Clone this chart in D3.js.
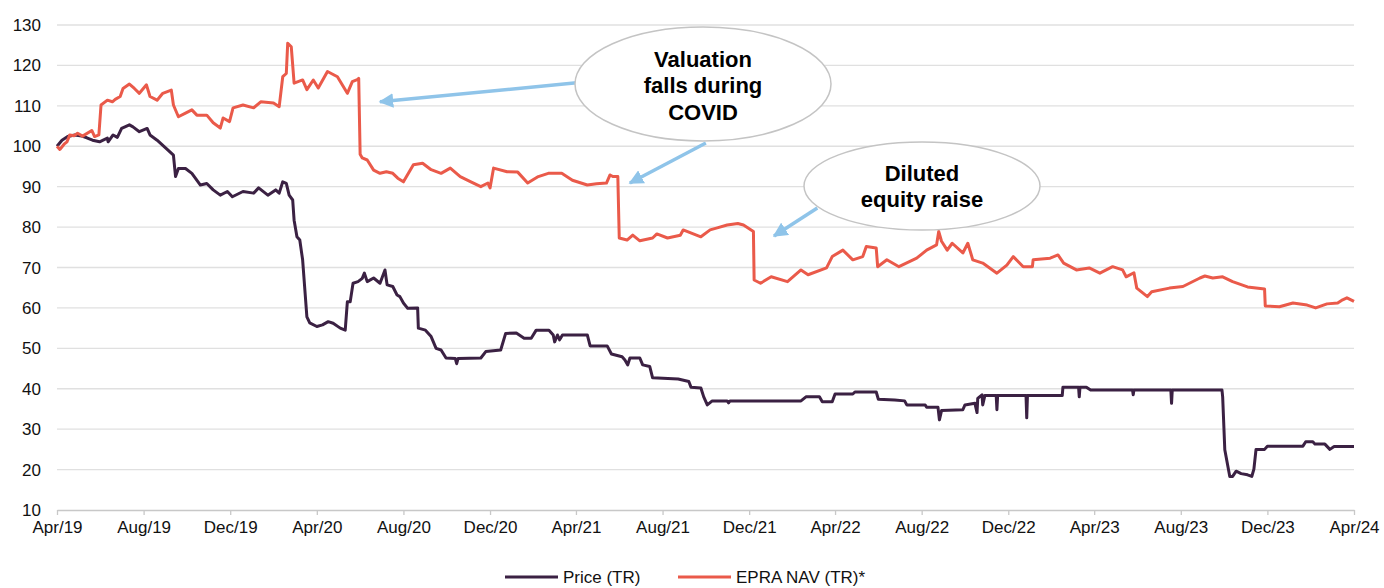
<!DOCTYPE html>
<html>
<head>
<meta charset="utf-8">
<script src="https://cdn.jsdelivr.net/npm/d3@7"></script>
<style>
  html, body { margin: 0; padding: 0; background: #fff; }
  svg { display: block; font-family: "Liberation Sans", Arial, sans-serif; }
</style>
</head>
<body>
<svg id="chart" width="1384" height="588"></svg>
<script>
// price total return, rebased to 100
const priceSeries = [
  ["2019-04-01",100.0],["2019-04-08",101.5],["2019-04-16",102.4],["2019-04-26",102.8],
  ["2019-05-06",102.5],["2019-05-13",102.1],["2019-05-21",101.5],["2019-05-31",101.1],
  ["2019-06-05",101.5],["2019-06-11",102.0],["2019-06-12",101.1],["2019-06-19",102.8],
  ["2019-06-25",102.2],["2019-07-01",104.4],["2019-07-12",105.3],["2019-07-17",104.8],
  ["2019-07-26",103.6],["2019-08-06",104.4],["2019-08-10",102.8],["2019-08-20",101.5],
  ["2019-09-04",99.1],["2019-09-12",97.8],["2019-09-15",92.5],["2019-09-19",94.5],
  ["2019-09-29",94.5],["2019-10-08",93.3],["2019-10-20",90.4],["2019-10-29",90.8],
  ["2019-11-07",89.2],["2019-11-17",87.9],["2019-11-27",88.8],["2019-12-04",87.5],
  ["2019-12-19",88.8],["2020-01-03",88.4],["2020-01-10",89.7],["2020-01-23",87.9],
  ["2020-02-03",89.2],["2020-02-08",88.4],["2020-02-13",91.2],["2020-02-18",90.8],
  ["2020-02-22",87.9],["2020-02-27",86.7],["2020-02-29",81.7],["2020-03-04",77.6],
  ["2020-03-08",76.8],["2020-03-12",71.9],["2020-03-18",57.8],["2020-03-22",56.3],
  ["2020-04-01",55.4],["2020-04-09",55.8],["2020-04-17",56.6],["2020-04-24",56.2],
  ["2020-05-04",55.0],["2020-05-11",54.5],["2020-05-14",61.5],["2020-05-18",61.5],
  ["2020-05-22",66.1],["2020-05-29",66.5],["2020-06-04",67.3],["2020-06-07",68.6],
  ["2020-06-11",66.5],["2020-06-20",67.4],["2020-06-29",66.1],["2020-07-06",69.4],
  ["2020-07-09",65.7],["2020-07-17",65.3],["2020-07-23",63.2],["2020-07-27",62.8],
  ["2020-08-01",61.2],["2020-08-07",59.9],["2020-08-21",60.0],["2020-08-22",55.0],
  ["2020-09-01",54.5],["2020-09-09",52.9],["2020-09-16",50.0],["2020-09-23",49.6],
  ["2020-09-30",47.6],["2020-10-13",47.5],["2020-10-15",46.2],["2020-10-17",47.5],
  ["2020-11-18",47.6],["2020-11-25",49.2],["2020-12-16",49.6],["2020-12-23",53.7],
  ["2021-01-07",53.8],["2021-01-18",52.5],["2021-01-28",52.5],["2021-02-04",54.5],
  ["2021-02-22",54.5],["2021-02-28",53.3],["2021-03-02",51.6],["2021-03-06",53.3],
  ["2021-03-09",52.1],["2021-03-13",53.3],["2021-04-17",53.3],["2021-04-21",50.6],
  ["2021-05-15",50.6],["2021-05-21",48.6],["2021-06-05",47.9],["2021-06-09",47.1],
  ["2021-06-13",45.9],["2021-06-16",47.6],["2021-06-30",47.6],["2021-07-04",45.9],
  ["2021-07-14",45.5],["2021-07-18",42.7],["2021-08-23",42.4],["2021-09-07",41.8],
  ["2021-09-10",40.4],["2021-09-24",40.2],["2021-09-28",38.0],["2021-10-03",36.0],
  ["2021-10-10",37.0],["2021-10-31",37.0],["2021-11-02",36.5],["2021-11-04",37.0],
  ["2022-02-12",37.0],["2022-02-19",38.0],["2022-03-10",38.0],["2022-03-14",36.8],
  ["2022-03-28",36.8],["2022-04-01",38.7],["2022-04-26",38.7],["2022-04-29",39.2],
  ["2022-05-29",39.2],["2022-06-01",37.4],["2022-06-24",37.2],["2022-07-08",37.0],
  ["2022-07-11",36.0],["2022-08-06",36.0],["2022-08-08",35.4],["2022-08-24",35.4],
  ["2022-08-26",32.3],["2022-08-29",34.6],["2022-09-28",34.8],["2022-10-01",36.0],
  ["2022-10-15",36.4],["2022-10-18",34.1],["2022-10-19",37.6],["2022-10-25",38.5],
  ["2022-10-26",36.0],["2022-10-29",38.3],["2022-11-14",38.3],["2022-11-15",34.8],
  ["2022-11-16",38.3],["2022-12-26",38.3],["2022-12-27",32.8],["2022-12-28",38.3],
  ["2023-02-15",38.3],["2023-02-16",40.4],["2023-03-10",40.4],["2023-03-11",38.0],
  ["2023-03-12",40.4],["2023-03-21",40.4],["2023-03-27",39.7],["2023-05-25",39.7],
  ["2023-05-26",38.5],["2023-05-27",39.7],["2023-07-18",39.7],["2023-07-19",36.4],
  ["2023-07-20",39.7],["2023-09-28",39.7],["2023-09-29",38.0],["2023-10-02",24.9],
  ["2023-10-09",18.3],["2023-10-13",18.3],["2023-10-18",19.6],["2023-10-25",19.0],
  ["2023-11-03",18.7],["2023-11-09",18.3],["2023-11-12",20.1],["2023-11-15",25.0],
  ["2023-11-27",25.0],["2023-12-01",25.8],["2024-01-20",25.8],["2024-01-24",26.9],
  ["2024-02-03",26.9],["2024-02-06",26.3],["2024-02-20",26.3],["2024-02-27",25.0],
  ["2024-03-04",25.7],["2024-04-01",25.7]
];

// EPRA NAV total return, rebased to 100
const navSeries = [
  ["2019-04-01",100.0],["2019-04-05",99.2],["2019-04-11",100.5],["2019-04-15",101.1],
  ["2019-04-19",102.8],["2019-04-25",102.6],["2019-04-30",103.2],["2019-05-07",102.5],
  ["2019-05-20",103.9],["2019-05-24",102.4],["2019-05-30",102.8],["2019-06-02",110.2],
  ["2019-06-11",111.4],["2019-06-18",111.0],["2019-06-22",111.6],["2019-06-29",112.3],
  ["2019-07-03",114.3],["2019-07-12",115.4],["2019-07-19",114.3],["2019-07-26",113.1],
  ["2019-08-05",115.2],["2019-08-10",112.3],["2019-08-20",111.4],["2019-08-28",113.1],
  ["2019-09-09",113.9],["2019-09-12",110.2],["2019-09-19",107.3],["2019-09-29",108.2],
  ["2019-10-08",109.0],["2019-10-15",107.7],["2019-10-29",107.7],["2019-11-07",105.8],
  ["2019-11-17",104.5],["2019-11-21",107.0],["2019-11-30",106.1],["2019-12-05",109.5],
  ["2019-12-19",110.2],["2020-01-03",109.5],["2020-01-13",111.0],["2020-01-31",110.7],
  ["2020-02-08",109.8],["2020-02-13",117.2],["2020-02-18",118.0],["2020-02-20",125.5],
  ["2020-02-25",124.6],["2020-02-29",115.6],["2020-03-12",116.4],["2020-03-18",114.0],
  ["2020-03-27",116.4],["2020-04-03",114.4],["2020-04-16",118.5],["2020-04-30",117.2],
  ["2020-05-14",113.1],["2020-05-21",116.0],["2020-05-28",116.5],["2020-05-30",116.8],
  ["2020-06-01",98.0],["2020-06-04",97.1],["2020-06-11",96.6],["2020-06-20",94.1],
  ["2020-06-29",93.3],["2020-07-08",93.7],["2020-07-17",93.3],["2020-07-24",92.1],
  ["2020-08-01",91.2],["2020-08-15",95.4],["2020-08-28",95.8],["2020-09-09",94.2],
  ["2020-09-23",93.3],["2020-10-06",94.6],["2020-10-20",92.5],["2020-11-04",91.2],
  ["2020-11-18",90.0],["2020-11-28",90.9],["2020-12-01",89.7],["2020-12-06",94.6],
  ["2020-12-25",93.7],["2021-01-09",93.6],["2021-01-23",90.9],["2021-02-07",92.5],
  ["2021-02-21",93.3],["2021-03-12",93.3],["2021-03-27",91.6],["2021-04-17",90.4],
  ["2021-04-30",90.7],["2021-05-14",90.9],["2021-05-19",92.9],["2021-05-23",92.5],
  ["2021-05-30",92.5],["2021-06-01",77.3],["2021-06-12",76.8],["2021-06-20",78.0],
  ["2021-06-30",76.6],["2021-07-18",77.3],["2021-07-24",78.3],["2021-08-08",77.3],
  ["2021-08-26",78.0],["2021-08-30",79.3],["2021-09-24",77.6],["2021-10-07",79.3],
  ["2021-10-17",79.8],["2021-10-31",80.5],["2021-11-15",80.9],["2021-11-23",80.5],
  ["2021-12-07",78.9],["2021-12-08",66.9],["2021-12-17",66.1],["2022-01-01",67.7],
  ["2022-01-24",66.5],["2022-02-12",69.4],["2022-02-22",68.2],["2022-03-20",69.9],
  ["2022-03-28",72.7],["2022-04-12",74.3],["2022-04-26",71.9],["2022-05-10",72.7],
  ["2022-05-15",75.2],["2022-05-29",74.8],["2022-05-31",70.2],["2022-06-13",71.9],
  ["2022-06-30",70.2],["2022-07-25",72.3],["2022-08-08",74.3],["2022-08-22",75.6],
  ["2022-08-25",78.9],["2022-08-29",76.5],["2022-09-06",74.3],["2022-09-13",76.0],
  ["2022-09-28",73.6],["2022-10-05",76.0],["2022-10-12",71.9],["2022-10-26",71.1],
  ["2022-11-15",68.6],["2022-11-29",70.6],["2022-12-08",72.7],["2022-12-22",70.2],
  ["2023-01-04",70.2],["2023-01-05",71.9],["2023-01-29",72.3],["2023-02-09",73.1],
  ["2023-02-17",71.1],["2023-03-07",69.4],["2023-03-25",69.9],["2023-04-09",68.6],
  ["2023-04-27",70.2],["2023-05-11",69.4],["2023-05-16",67.7],["2023-05-27",68.7],
  ["2023-05-31",64.9],["2023-06-15",62.8],["2023-06-21",64.0],["2023-07-16",64.9],
  ["2023-08-04",65.3],["2023-08-28",67.4],["2023-09-04",67.9],["2023-09-15",67.4],
  ["2023-09-29",67.7],["2023-10-13",66.5],["2023-11-03",65.2],["2023-11-27",64.7],
  ["2023-11-28",60.5],["2023-12-18",60.3],["2024-01-06",61.2],["2024-01-26",60.7],
  ["2024-02-07",60.0],["2024-02-23",61.0],["2024-03-09",61.2],["2024-03-16",62.0],
  ["2024-03-22",62.5],["2024-04-01",61.6]
];

const xTicks = ["2019-04-01","2019-08-01","2019-12-01","2020-04-01","2020-08-01","2020-12-01",
  "2021-04-01","2021-08-01","2021-12-01","2022-04-01","2022-08-01","2022-12-01",
  "2023-04-01","2023-08-01","2023-12-01","2024-04-01"];
const yTicks = [10, 20, 30, 40, 50, 60, 70, 80, 90, 100, 110, 120, 130];

const seriesNames = ["Price (TR)", "EPRA NAV (TR)*"];
const seriesColors = ["#3b2143", "#ea5a4a"];

const callouts = [
  { lines: ["Valuation", "falls during", "COVID"] },
  { lines: ["Diluted", "equity raise"] }
];

// arrow [from, to] in data coordinates
const arrows = [
  [["2021-04-02", 115.7], ["2020-06-29", 111.0]],
  [["2021-10-01", 100.8], ["2021-06-16", 90.9]],
  [["2022-03-07", 84.7], ["2022-01-05", 77.8]]
];

const parse = d3.timeParse("%Y-%m-%d");
const svg = d3.select("#chart");

const x = d3.scaleTime()
  .domain([parse("2019-04-01"), parse("2024-04-01")])
  .range([57, 1354]);
const y = d3.scaleLinear().domain([10, 130]).range([510, 25]);

// grid
svg.append("g").selectAll("line")
  .data(yTicks.filter(d => d > 10))
  .join("line")
  .attr("x1", x.range()[0]).attr("x2", x.range()[1])
  .attr("y1", d => y(d)).attr("y2", d => y(d))
  .attr("stroke", "#e0e0e0").attr("stroke-width", 1.3);

// y axis labels
svg.append("g").selectAll("text")
  .data(yTicks)
  .join("text")
  .attr("x", 41).attr("y", d => y(d) + 6)
  .attr("text-anchor", "end")
  .attr("font-size", 17).attr("fill", "#111")
  .text(d => d);

// x axis
const xAxis = d3.axisBottom(x)
  .tickValues(xTicks.map(parse))
  .tickFormat(d3.timeFormat("%b/%y"))
  .tickSize(5).tickSizeOuter(0);
const gx = svg.append("g").attr("transform", `translate(0,${y(10)})`).call(xAxis);
gx.select(".domain").attr("stroke", "#c8c8c8").attr("stroke-width", 1.5);
gx.selectAll(".tick line").attr("stroke", "#c8c8c8").attr("stroke-width", 1.3);
gx.selectAll(".tick text")
  .attr("font-size", 17).attr("fill", "#111")
  .attr("font-family", "Liberation Sans, Arial, sans-serif")
  .attr("y", 11);

// lines
const line = d3.line()
  .x(d => x(parse(d[0])))
  .y(d => y(d[1]));

[priceSeries, navSeries].forEach((s, i) => {
  svg.append("path")
    .datum(s)
    .attr("fill", "none")
    .attr("stroke", seriesColors[i])
    .attr("stroke-width", 3)
    .attr("stroke-linejoin", "round")
    .attr("d", line);
});

// annotation arrows (drawn before the bubbles so the bubbles sit on top)
const defs = svg.append("defs");
defs.append("marker")
  .attr("id", "head")
  .attr("viewBox", "0 0 10 10")
  .attr("refX", 9).attr("refY", 5)
  .attr("markerWidth", 4.2).attr("markerHeight", 4.2)
  .attr("markerUnits", "strokeWidth")
  .attr("orient", "auto")
  .append("path").attr("d", "M0,0 L10,5 L0,10 Z").attr("fill", "#8fc4e9");

svg.append("g").selectAll("line")
  .data(arrows)
  .join("line")
  .attr("x1", d => x(parse(d[0][0]))).attr("y1", d => y(d[0][1]))
  .attr("x2", d => x(parse(d[1][0]))).attr("y2", d => y(d[1][1]))
  .attr("stroke", "#8fc4e9").attr("stroke-width", 3.5)
  .attr("marker-end", "url(#head)");

// bubbles
const bubbleGeom = [
  { cx: 703, cy: 84, rx: 128, ry: 57, y0: 67 },
  { cx: 922, cy: 186, rx: 118, ry: 44, y0: 181 }
];
callouts.forEach((c, i) => {
  const b = bubbleGeom[i];
  const g = svg.append("g");
  g.append("ellipse")
    .attr("cx", b.cx).attr("cy", b.cy).attr("rx", b.rx).attr("ry", b.ry)
    .attr("fill", "#fff").attr("stroke", "#c4c4c4").attr("stroke-width", 1.5);
  g.selectAll("text")
    .data(c.lines)
    .join("text")
    .attr("x", b.cx).attr("y", (d, j) => b.y0 + j * 26.3)
    .attr("text-anchor", "middle")
    .attr("font-size", 22).attr("font-weight", "bold").attr("fill", "#000")
    .text(d => d);
});

// legend
const legendPos = [505, 678];
const legend = svg.append("g");
seriesNames.forEach((name, i) => {
  legend.append("line")
    .attr("x1", legendPos[i]).attr("x2", legendPos[i] + 53)
    .attr("y1", 577).attr("y2", 577)
    .attr("stroke", seriesColors[i]).attr("stroke-width", 3);
  legend.append("text")
    .attr("x", legendPos[i] + 58).attr("y", 583)
    .attr("font-size", 17).attr("fill", "#111")
    .text(name);
});
</script>
</body>
</html>
